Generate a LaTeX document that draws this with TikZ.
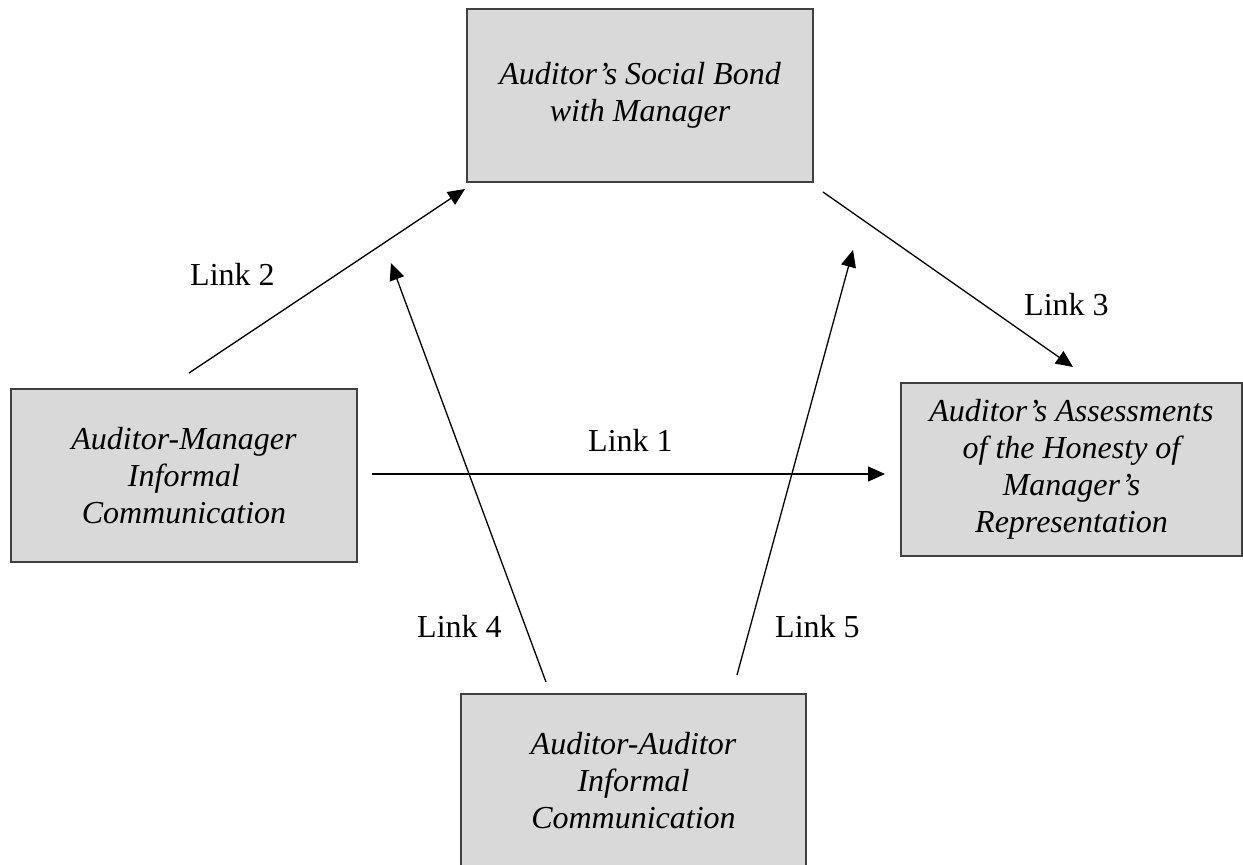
\documentclass[tikz,border=0pt]{standalone}
\usepackage{fontspec}
\setmainfont{Liberation Serif}
\usetikzlibrary{arrows.meta}
\definecolor{boxfill}{HTML}{D9D9D9}
\definecolor{boxline}{HTML}{404040}
\begin{document}
\begin{tikzpicture}[x=1pt,y=-1pt,
  box/.style={draw=boxline,line width=1.3pt,fill=boxfill,minimum width=346pt,minimum height=173pt,
    align=center,font=\fontsize{32}{37}\selectfont\itshape,inner sep=0pt},
  link/.style={line width=1.3pt,-{Triangle[length=17pt,width=15pt]}},
  lab/.style={anchor=base west,inner sep=0pt,font=\fontsize{32}{37}\selectfont}]
\useasboundingbox (0,0) rectangle (1243,865);
\clip (0,0) rectangle (1243,865);
\fill[white] (0,0) rectangle (1243,865);
\node[box] (soc) at (640,95.5) {Auditor’s Social Bond\\with Manager};
\node[box] (am) at (184,475.5) {Auditor-Manager\\Informal\\Communication};
\node[box,minimum width=341pt] (hon) at (1071.5,469.5) {Auditor’s Assessments\\of the Honesty of\\Manager’s\\Representation};
\node[box,minimum width=345pt] (aa) at (633.5,780.5) {Auditor-Auditor\\Informal\\Communication};
\coordinate (l2s) at (189,373); \coordinate (l2e) at (465,189);
\coordinate (l3s) at (823,192); \coordinate (l3e) at (1073,367);
\coordinate (l1s) at (372,474); \coordinate (l1e) at (885,474);
\coordinate (l4s) at (546,682); \coordinate (l4e) at (391,263);
\coordinate (l5s) at (737,675); \coordinate (l5e) at (853,250);
\draw[link] (l2s) -- (l2e);
\draw[link] (l3s) -- (l3e);
\draw[link] (l1s) -- (l1e);
\draw[link] (l4s) -- (l4e);
\draw[link] (l5s) -- (l5e);
\node[lab] (t2) at (190,285) {Link 2};
\node[lab] (t3) at (1024,315) {Link 3};
\node[lab] (t1) at (588,451) {Link 1};
\node[lab] (t4) at (417,637) {Link 4};
\node[lab] (t5) at (775,637) {Link 5};
\end{tikzpicture}
\end{document}
